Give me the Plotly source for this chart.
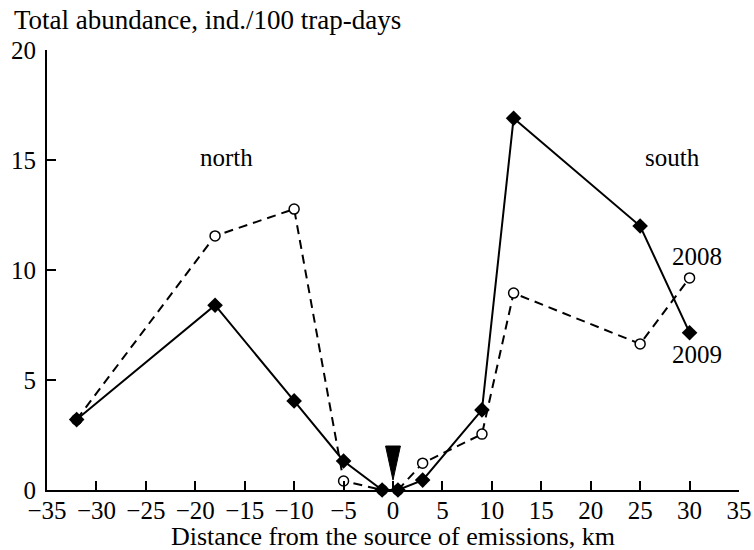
import plotly.graph_objects as go

# Data
dist_2009 = [-32, -18, -10, -5, -1.1, 0.5, 3, 9, 12.2, 25, 30]
abund_2009 = [3.2, 8.4, 4.05, 1.32, 0, 0, 0.45, 3.64, 16.9, 12.0, 7.15]

dist_2008 = [-32, -18, -10, -5, -1.1, 0.5, 3, 9, 12.2, 25, 30]
abund_2008 = [3.2, 11.55, 12.77, 0.41, 0, 0, 1.22, 2.54, 8.95, 6.64, 9.64]

x_ticks = [-35, -30, -25, -20, -15, -10, -5, 0, 5, 10, 15, 20, 25, 30, 35]
y_ticks = [0, 5, 10, 15, 20]
source_x = 0

FONT = "Liberation Serif"

fig = go.Figure()

fig.add_trace(go.Scatter(
    x=dist_2008, y=abund_2008, mode="lines+markers", name="2008",
    line=dict(color="black", width=2, dash="9px,6px"),
    marker=dict(symbol="circle", size=10, color="white",
                line=dict(color="black", width=1.5)),
    cliponaxis=False, showlegend=False,
))
fig.add_trace(go.Scatter(
    x=dist_2009, y=abund_2009, mode="lines+markers", name="2009",
    line=dict(color="black", width=2),
    marker=dict(symbol="diamond", size=12, color="black"),
    cliponaxis=False, showlegend=False,
))

# Source-of-emissions pointer (tall black triangle above x = 0)
fig.add_shape(type="path", xref="x", yref="y",
              path=f"M {source_x-0.75},2.0 L {source_x+0.75},2.0 L {source_x},0.45 Z",
              fillcolor="black", line=dict(color="black", width=1))

fig.update_layout(
    width=754, height=550,
    margin=dict(l=47, r=15, t=50, b=60, autoexpand=False),
    plot_bgcolor="white", paper_bgcolor="white",
    font=dict(family=FONT, size=25, color="black"),
    xaxis=dict(range=[-35, 35], tickvals=x_ticks, ticks="inside", ticklen=9,
               tickwidth=2, tickcolor="black", showline=True, linecolor="black",
               linewidth=2, showgrid=False, zeroline=False, automargin=False,
               ticklabelstandoff=-3, tickfont=dict(size=25)),
    yaxis=dict(range=[0, 20], tickvals=y_ticks, ticks="inside", ticklen=9,
               tickwidth=2, tickcolor="black", showline=True, linecolor="black",
               linewidth=2, showgrid=False, zeroline=False, automargin=False,
               ticklabelstandoff=4, tickfont=dict(size=25)),
    annotations=[
        dict(text="Total abundance, ind./100 trap-days", xref="paper", yref="paper",
             x=-0.05, y=1.068, xanchor="left", yanchor="middle", showarrow=False,
             font=dict(size=27)),
        dict(text="Distance from the source of emissions, km", xref="paper", yref="paper",
             x=0.5, y=-0.105, xanchor="center", yanchor="middle", showarrow=False,
             font=dict(size=26)),
        dict(text="north", x=-16.8, y=15.1, xref="x", yref="y", showarrow=False,
             font=dict(size=25)),
        dict(text="south", x=28.3, y=15.1, xref="x", yref="y", showarrow=False,
             font=dict(size=25)),
        dict(text="2008", x=30.75, y=10.6, xref="x", yref="y", showarrow=False,
             font=dict(size=25)),
        dict(text="2009", x=30.75, y=6.18, xref="x", yref="y", showarrow=False,
             font=dict(size=25)),
    ],
)

fig.write_html(
    "out.html",
    config={"displayModeBar": False},
    post_script="document.body.style.margin='0';document.body.style.padding='0';"
                "document.body.style.overflow='hidden';",
)
